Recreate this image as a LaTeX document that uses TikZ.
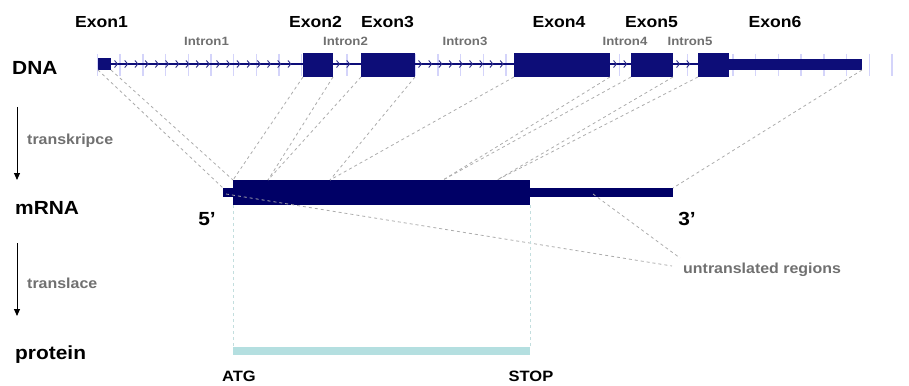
\documentclass[tikz,border=0pt]{standalone}
\usepackage{fontspec}
\setmainfont{Liberation Sans}
\usepackage{graphicx}
\usetikzlibrary{arrows.meta}

\definecolor{dnablue}{RGB}{13,13,120}
\definecolor{mblue}{RGB}{0,0,102}
\definecolor{protc}{RGB}{180,223,224}
\definecolor{labgray}{RGB}{112,112,112}
\definecolor{dashgray}{RGB}{172,172,172}
\definecolor{tickc}{RGB}{212,212,250}
\definecolor{vdash}{RGB}{195,222,222}

\newcommand{\hst}[1]{\scalebox{1.1}[1]{#1}}

\begin{document}
\begin{tikzpicture}[x=1pt,y=-1pt,
  bar/.style={fill=#1, draw=none, inner sep=0pt, outer sep=0pt, anchor=north west},
  exonlab/.style={font=\fontsize{16}{18}\selectfont\bfseries, inner sep=0pt},
  bigl/.style={font=\fontsize{19}{22}\selectfont\bfseries, inner sep=0pt, anchor=west},
  endlab/.style={font=\fontsize{15}{17}\selectfont\bfseries, inner sep=0pt},
  gl/.style={font=\fontsize{14.5}{17}\selectfont\bfseries, text=labgray, inner sep=0pt},
  il/.style={font=\fontsize{12}{14}\selectfont\bfseries, text=labgray, inner sep=0pt},
  dl/.style={draw=dashgray, line width=0.8pt, dash pattern=on 3pt off 3pt},
  vl/.style={draw=vdash, line width=0.8pt, dash pattern=on 3pt off 3pt},
  flow/.style={draw=black, line width=1pt, -{Triangle[length=7pt,width=6pt]}}
]
\useasboundingbox (0,0) rectangle (909,385);

% ---- DNA ----
\foreach \x in {97.4,120.1,...,894} \draw[tickc, line width=1.4pt] (\x,54) -- (\x,76);
\coordinate (dl) at (111,64);
\coordinate (dr) at (698,64);
\draw[dnablue, line width=1.5pt] (dl) -- (dr);
\foreach \a/\b in {111/303,333/361,415/514,610/631,673/698}{
  \pgfmathsetmacro\s{\a+6}
  \pgfmathsetmacro\t{\a+16.2}
  \pgfmathsetmacro\e{\b-3}
  \foreach \x in {\s,\t,...,\e}
    \draw[dnablue!85, line width=0.9pt] (\x-2.5,60.5) -- (\x+0.5,64) -- (\x-2.5,67.5);
}
\node[bar=dnablue, minimum width=13pt, minimum height=12pt] (e1) at (98,58) {};
\node[bar=dnablue, minimum width=30pt, minimum height=24pt] (e2) at (303,53) {};
\node[bar=dnablue, minimum width=54pt, minimum height=24pt] (e3) at (361,53) {};
\node[bar=dnablue, minimum width=96pt, minimum height=24pt] (e4) at (514,53) {};
\node[bar=dnablue, minimum width=42pt, minimum height=24pt] (e5) at (631,53) {};
\node[bar=dnablue, minimum width=31pt, minimum height=24pt] (e6) at (698,53) {};
\node[bar=dnablue, minimum width=134pt, minimum height=11pt] (e6t) at (728,59) {};

% ---- labels top ----
\node[exonlab] (l1) at (101.5,22) {\hst{Exon1}};
\node[exonlab] (l2) at (315.5,22) {\hst{Exon2}};
\node[exonlab] (l3) at (387.5,22) {\hst{Exon3}};
\node[exonlab] (l4) at (559,22) {\hst{Exon4}};
\node[exonlab] (l5) at (651.5,22) {\hst{Exon5}};
\node[exonlab] (l6) at (775,22) {\hst{Exon6}};
\node[il] (i1) at (206.5,41.5) {\hst{Intron1}};
\node[il] (i2) at (345.5,41.5) {\hst{Intron2}};
\node[il] (i3) at (465,41.5) {\hst{Intron3}};
\node[il] (i4) at (625,41.5) {\hst{Intron4}};
\node[il] (i5) at (690,41.5) {\hst{Intron5}};

% ---- left labels ----
\node[bigl] (dna) at (12,68) {\hst{DNA}};
\node[bigl] (mrna) at (15,208) {\hst{mRNA}};
\node[bigl] (prot) at (15,355) {\hst{protein}};
\coordinate (a1s) at (17,107);
\coordinate (a1e) at (17,180);
\coordinate (a2s) at (17,243);
\coordinate (a2e) at (17,316);
\draw[flow] (a1s) -- (a1e);
\draw[flow] (a2s) -- (a2e);
\node[gl, anchor=west] (tk) at (27,141) {\hst{transkripce}};
\node[gl, anchor=west] (tl) at (27,283) {\hst{translace}};

% ---- mRNA ----
\node[bar=mblue, minimum width=450pt, minimum height=9pt] (mthin) at (223,188) {};
\node[bar=mblue, minimum width=297pt, minimum height=25pt] (mthick) at (233,180) {};
\coordinate (c2) at (268,180);
\coordinate (c3) at (330,180);
\coordinate (c4) at (443,180);
\coordinate (c5) at (497,180);
\node[font=\fontsize{19}{22}\selectfont\bfseries, inner sep=0pt] (p5) at (207,219) {\hst{5’}};
\node[font=\fontsize{19}{22}\selectfont\bfseries, inner sep=0pt] (p3) at (687,219) {\hst{3’}};

% ---- exon to mRNA lines ----
\draw[dl] (e1.south west) -- (mthin.north west);
\draw[dl] (e1.south east) -- (mthick.north west);
\draw[dl] (e2.south west) -- (mthick.north west);
\draw[dl] (e2.south east) -- (c2);
\draw[dl] (e3.south west) -- (c2);
\draw[dl] (e3.south east) -- (c3);
\draw[dl] (e4.south west) -- (c3);
\draw[dl] (e4.south east) -- (c4);
\draw[dl] (e5.south west) -- (c4);
\draw[dl] (e5.south east) -- (c5);
\draw[dl] (e6.south west) -- (c5);
\draw[dl] (e6t.south east) -- (mthin.north east);

% ---- untranslated ----
\node[gl, anchor=west] (utr) at (683,270) {\hst{untranslated regions}};
\coordinate (u1) at (226,194);
\coordinate (u2) at (593,194);
\coordinate (ut1) at (672,266);
\coordinate (ut2) at (680,258);
\draw[dl] (u1) -- (ut1);
\draw[dl] (u2) -- (ut2);

% ---- protein ----
\node[bar=protc, minimum width=297pt, minimum height=8pt] (pbar) at (233,347) {};
\draw[vl] (mthick.south west) -- (pbar.north west);
\draw[vl] (mthick.south east) -- (pbar.north east);
\node[endlab] (atg) at (239,376) {\hst{ATG}};
\node[endlab] (stop) at (531,376) {\hst{STOP}};
\end{tikzpicture}
\end{document}
